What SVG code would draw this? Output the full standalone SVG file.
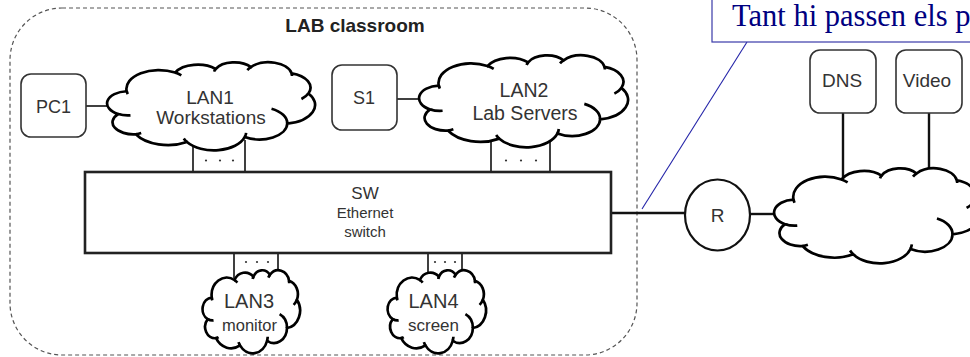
<svg xmlns="http://www.w3.org/2000/svg" xmlns:xlink="http://www.w3.org/1999/xlink" width="970" height="357" viewBox="0 0 970 357">
<style>
.frame{fill:none;stroke:#555;stroke-width:1.2;stroke-dasharray:4 3}
.box{fill:#fff;stroke:#333;stroke-width:1.6}
.sw{fill:#fff;stroke:#222;stroke-width:2.6}
.cl{fill:#fff;stroke:#000;stroke-width:2.7;vector-effect:non-scaling-stroke;stroke-linejoin:miter}
.hk{fill:none;stroke:#000;stroke-width:2.7;vector-effect:non-scaling-stroke;stroke-linecap:butt}
.ln{fill:none;stroke:#111;stroke-width:1.6}
.thick{fill:none;stroke:#111;stroke-width:2.4}
.dot{fill:#333}
.t{font-family:"Liberation Sans",Arial,sans-serif;fill:#333;text-anchor:middle}
.title{font-family:"Liberation Sans",Arial,sans-serif;font-weight:bold;font-size:19px;fill:#222;text-anchor:middle}
.note{font-family:"Liberation Serif","Times New Roman",serif;font-size:30.5px;fill:#000080}
.nbox{fill:#fff;stroke:#3a3aa8;stroke-width:1.2}
.lead{fill:none;stroke:#2323a8;stroke-width:1.1}
</style>
<defs>
<g id="cloud">
<path class="cl" d="M9.03,33.26 A15.63,21.27 0 0 1 32.42,12.04 A12.34,16.82 0 0 1 51.99,7.95 A10.10,13.76 0 0 1 69.06,5.75 A11.24,15.27 0 0 1 88.70,12.92 A12.34,16.84 0 0 1 96.81,35.80 A15.68,21.34 0 0 1 86.59,69.92 A13.39,18.21 0 0 1 66.10,85.22 A15.63,21.33 0 0 1 38.15,90.90 A17.87,24.41 0 0 1 13.44,82.11 A10.09,13.70 0 0 1 4.90,59.15 A10.06,13.76 0 0 1 9.03,33.26 Z"/>
<path class="hk" d="M10.86,60.60 A10.06,13.76 0 0 1 4.90,59.15 M16.04,80.78 A10.09,13.70 0 0 1 13.44,82.11 M38.15,90.90 A15.63,21.33 0 0 1 36.61,86.87 M66.73,80.44 A15.63,21.33 0 0 1 66.10,85.22 M79.00,53.13 A13.39,18.21 0 0 1 86.59,69.92 M96.81,35.80 A12.34,16.84 0 0 1 93.45,41.99 M88.70,12.92 A11.24,15.27 0 0 1 88.88,15.84 M67.31,9.15 A11.24,15.27 0 0 1 69.06,5.75 M51.25,10.93 A10.10,13.76 0 0 1 51.99,7.95 M32.42,12.04 A15.63,21.27 0 0 1 35.43,15.17 M9.55,36.55 A15.63,21.27 0 0 1 9.03,33.26"/>
</g>
</defs>
<rect width="970" height="357" fill="#fff"/>

<g id="lab-classroom">
<rect class="frame" x="10" y="8" width="627" height="347" rx="52" ry="52"/>
<text class="title" x="355" y="32">LAB classroom</text>
</g>

<g id="connectors">
<path class="ln" d="M86,106 H112"/>
<path class="ln" d="M397,99 H424"/>
<path class="ln" d="M193,140 V172 M245,140 V172"/>
<path class="ln" d="M491,140 V172 M550,140 V172"/>
<path class="ln" d="M234,253 V278 M278,253 V278"/>
<path class="ln" d="M428,253 V278 M462,253 V278"/>
<path class="thick" d="M611,213 H685"/>
<path class="thick" d="M750,214 H779"/>
<path class="thick" d="M843,113 V184"/>
<path class="thick" d="M929,113 V175"/>
<circle class="dot" cx="206" cy="160.5" r="1.1"/><circle class="dot" cx="220" cy="160.5" r="1.1"/><circle class="dot" cx="233" cy="160.5" r="1.1"/>
<circle class="dot" cx="506" cy="160.5" r="1.1"/><circle class="dot" cx="521" cy="160.5" r="1.1"/><circle class="dot" cx="536" cy="160.5" r="1.1"/>
<circle class="dot" cx="246" cy="262" r="1.1"/><circle class="dot" cx="257" cy="262" r="1.1"/><circle class="dot" cx="268" cy="262" r="1.1"/>
<circle class="dot" cx="435" cy="262" r="1.1"/><circle class="dot" cx="445" cy="262" r="1.1"/><circle class="dot" cx="455" cy="262" r="1.1"/>
</g>

<g id="pc1">
<rect class="box" x="21" y="74" width="65" height="63" rx="10"/>
<text class="t" x="53.5" y="113" font-size="18">PC1</text>
</g>
<g id="lan1">
<use xlink:href="#cloud" href="#cloud" transform="translate(108,62) scale(2.07,0.88)"/>
<text class="t" x="210" y="104" font-size="19">LAN1</text>
<text class="t" x="211" y="124" font-size="19">Workstations</text>
</g>
<g id="s1">
<rect class="box" x="332" y="65" width="65" height="65" rx="10"/>
<text class="t" x="364" y="104" font-size="18">S1</text>
</g>
<g id="lan2">
<use xlink:href="#cloud" href="#cloud" transform="translate(420,55) scale(2.08,0.92)"/>
<text class="t" x="524" y="97" font-size="19.5">LAN2</text>
<text class="t" x="525" y="120" font-size="19.5">Lab Servers</text>
</g>
<g id="sw">
<rect class="sw" x="85" y="172" width="526" height="81"/>
<text class="t" x="365" y="199" font-size="17">SW</text>
<text class="t" x="365" y="218" font-size="15">Ethernet</text>
<text class="t" x="365" y="237" font-size="15">switch</text>
</g>
<g id="lan3">
<use xlink:href="#cloud" href="#cloud" transform="translate(203,270) scale(0.97,0.83)"/>
<text class="t" x="249" y="308" font-size="20">LAN3</text>
<text class="t" x="249.5" y="331" font-size="16.5">monitor</text>
</g>
<g id="lan4">
<use xlink:href="#cloud" href="#cloud" transform="translate(388,270) scale(0.98,0.83)"/>
<text class="t" x="433.5" y="308" font-size="20">LAN4</text>
<text class="t" x="433.5" y="331" font-size="17">screen</text>
</g>
<g id="r">
<ellipse class="box" cx="717.5" cy="215" rx="32.5" ry="35.5" style="stroke:#111;stroke-width:2.2"/>
<text class="t" x="717.5" y="222" font-size="19">R</text>
</g>
<g id="internet">
<use xlink:href="#cloud" href="#cloud" transform="translate(775,168) scale(2.05,0.95)"/>
</g>
<g id="dns">
<rect class="box" x="810" y="50" width="66" height="63" rx="10"/>
<text class="t" x="842" y="87" font-size="19">DNS</text>
</g>
<g id="video">
<rect class="box" x="896" y="50" width="66" height="63" rx="10"/>
<text class="t" x="927" y="87" font-size="19">Video</text>
</g>
<g id="note">
<path class="lead" d="M747,42 L642,209"/>
<rect class="nbox" x="712" y="-5" width="280" height="47"/>
<text class="note" x="732" y="26">Tant hi passen els p</text>
</g>
</svg>
